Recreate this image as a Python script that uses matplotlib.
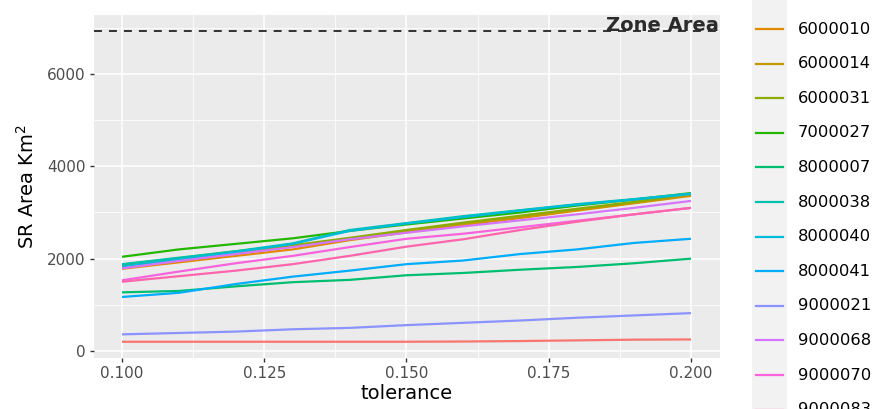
import matplotlib
matplotlib.use('Agg')
import matplotlib.pyplot as plt
from matplotlib.lines import Line2D
from matplotlib.patches import Rectangle
from matplotlib.transforms import blended_transform_factory

# tolerance values on the x axis
tolerance = [0.10, 0.11, 0.12, 0.13, 0.14, 0.15, 0.16, 0.17, 0.18, 0.19, 0.20]

# SR area (km2) for each zone
zones = ['10000006', '6000010', '6000014', '6000031', '7000027', '8000007',
         '8000038', '8000040', '8000041', '9000021', '9000068', '9000070',
         '9000083']

areas = {
    '10000006': [200, 200, 200, 200, 200, 200, 205, 215, 230, 245, 250],
    '6000010': [1780, 1920, 2060, 2200, 2400, 2570, 2730, 2880, 3040, 3200, 3360],
    '6000014': [1850, 1990, 2120, 2260, 2430, 2600, 2760, 2900, 3060, 3210, 3380],
    '6000031': [1870, 2010, 2160, 2290, 2450, 2620, 2780, 2930, 3080, 3230, 3400],
    '7000027': [2040, 2200, 2320, 2440, 2600, 2740, 2870, 3000, 3150, 3280, 3420],
    '8000007': [1270, 1300, 1400, 1490, 1540, 1640, 1690, 1760, 1820, 1900, 2000],
    '8000038': [1880, 2020, 2160, 2330, 2620, 2770, 2920, 3050, 3180, 3290, 3410],
    '8000040': [1830, 1980, 2140, 2320, 2600, 2760, 2900, 3040, 3170, 3280, 3400],
    '8000041': [1170, 1260, 1450, 1610, 1740, 1880, 1960, 2100, 2200, 2340, 2430],
    '9000021': [360, 390, 420, 470, 500, 560, 610, 660, 720, 770, 820],
    '9000068': [1790, 1950, 2100, 2250, 2420, 2560, 2700, 2830, 2960, 3100, 3250],
    '9000070': [1530, 1720, 1900, 2060, 2250, 2430, 2540, 2680, 2820, 2960, 3100],
    '9000083': [1500, 1620, 1740, 1880, 2060, 2260, 2420, 2620, 2800, 2960, 3100],
}

zone_area = 6930

# ggplot default hue palette for 13 groups
colors = ['#F8766D', '#E18A00', '#BE9C00', '#8CAB00', '#24B700', '#00BE70',
          '#00C1AB', '#00BBDA', '#00ACFC', '#8B93FF', '#D575FE', '#F962DD',
          '#FF65AC']

W, H = 887, 409
fig = plt.figure(figsize=(W / 100, H / 100), dpi=100)
ax = fig.add_axes([94 / W, 1 - 358 / H, (720 - 94) / W, (358 - 15) / H])
ax.set_facecolor('#EBEBEB')

for name, col in zip(zones, colors):
    ax.plot(tolerance, areas[name], color=col, lw=1.6, solid_capstyle='butt')

ax.axhline(zone_area, color='black', lw=1.1, ls=(0, (5.2, 4.6)))
tr = blended_transform_factory(ax.transAxes, ax.transData)
ax.text(0.998, zone_area, 'Zone Area', transform=tr, ha='right', va='baseline',
        fontsize=14, fontweight='bold', color='#2b2b2b', clip_on=False)

ax.set_xlim(0.09508, 0.2051)
ax.set_ylim(-152, 7277)
ax.set_xticks([0.100, 0.125, 0.150, 0.175, 0.200])
ax.set_xticklabels(['0.100', '0.125', '0.150', '0.175', '0.200'])
ax.set_yticks([0, 2000, 4000, 6000])
ax.set_xticks([0.1125, 0.1375, 0.1625, 0.1875], minor=True)
ax.set_yticks([1000, 3000, 5000, 7000], minor=True)
ax.grid(which='major', color='white', lw=1.1)
ax.grid(which='minor', color='white', lw=0.55)
ax.set_axisbelow(True)
ax.tick_params(which='major', length=3, width=1, color='#333333',
               labelcolor='#4D4D4D', labelsize=11, pad=3)
ax.tick_params(which='minor', length=0)
for s in ax.spines.values():
    s.set_visible(False)

ax.set_xlabel('tolerance', fontsize=14, labelpad=2)
ax.set_ylabel('SR Area Km$^2$', fontsize=14, labelpad=7)

# legend drawn by hand so it runs off the top and bottom like the original
fig.add_artist(Rectangle((752 / W, 0), 35 / W, 1, transform=fig.transFigure,
                         facecolor='#F2F2F2', edgecolor='none'))
for i, (name, col) in enumerate(zip(zones, colors)):
    yc = -5.6 + 34.6 * i
    fy = 1 - yc / H
    fig.add_artist(Line2D([756 / W, 783 / W], [fy, fy], transform=fig.transFigure,
                          color=col, lw=1.6))
    fig.text(798 / W, fy, name, fontsize=11.8, va='center', ha='left',
             color='black')

fig.savefig('out.png', dpi=100)
